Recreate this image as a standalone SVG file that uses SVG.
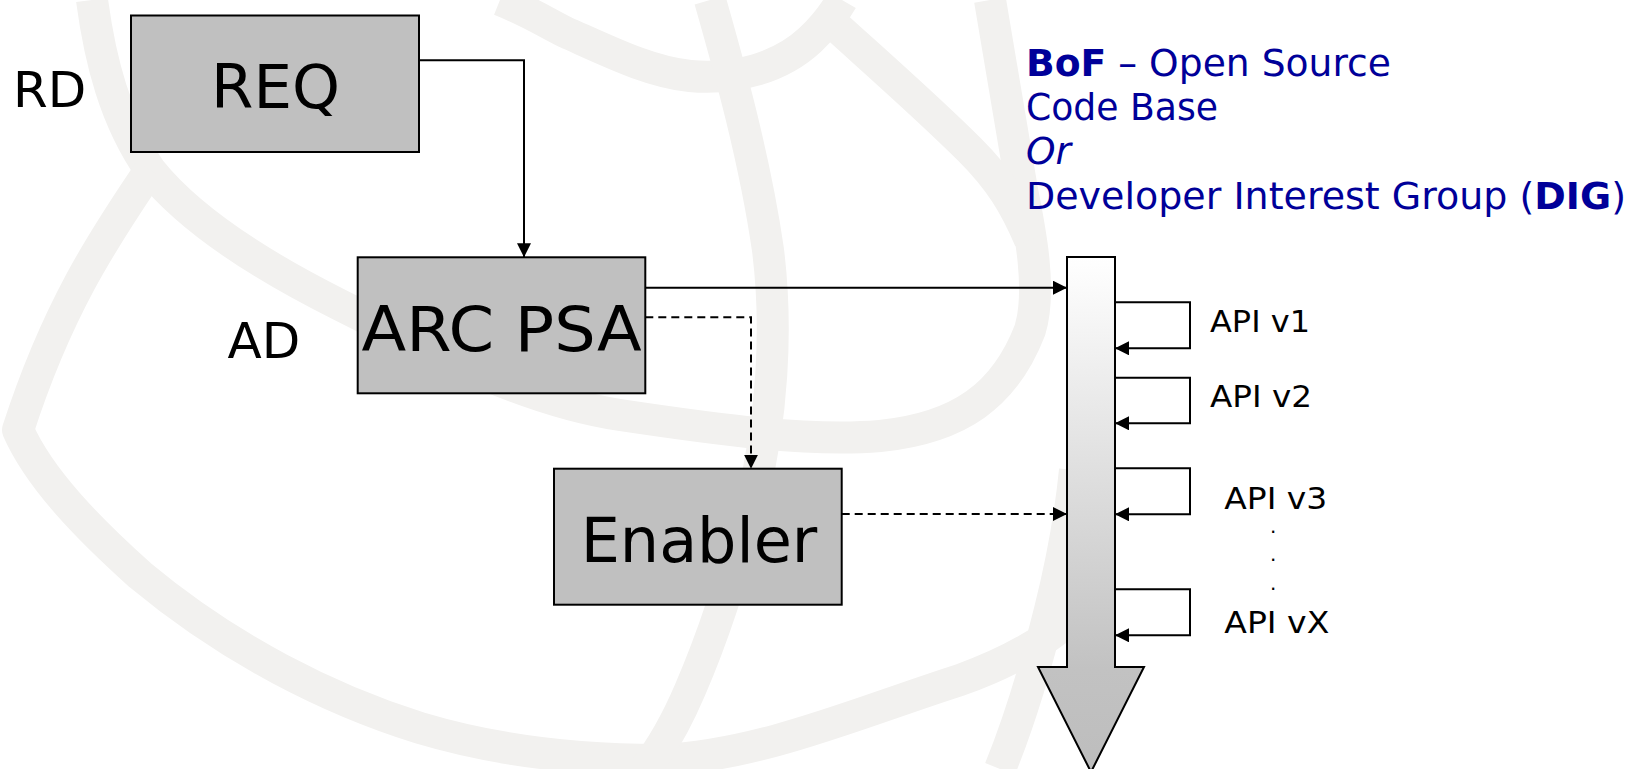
<svg xmlns="http://www.w3.org/2000/svg" width="1634" height="769" viewBox="0 0 1634 769">
  <defs>
    <style>
      .band { fill: none; stroke: #f2f1ef; stroke-width: 32; stroke-linecap: butt; stroke-linejoin: round; }
      .box { fill: #c0c0c0; stroke: #000; stroke-width: 2; }
      .lbl { font-family: "DejaVu Sans", Verdana, sans-serif; fill: #000; }
      .big { font-size: 62px; text-anchor: middle; }
      .side { font-size: 50px; }
      .api { font-size: 30.5px; }
      .dot { font-size: 20px; text-anchor: middle; }
      .blue { font-family: "DejaVu Sans", Verdana, sans-serif; font-size: 37.5px; fill: #000099; }
      .conn { fill: none; stroke: #000; stroke-width: 2; }
      .dash { stroke-dasharray: 8 5; }
    </style>
    <marker id="arrow" markerUnits="userSpaceOnUse" markerWidth="14" markerHeight="14" refX="14" refY="7" orient="auto">
      <path d="M0,0 L14,7 L0,14 z" fill="#000"/>
    </marker>
    <linearGradient id="busFill" gradientUnits="userSpaceOnUse" x1="0" y1="257" x2="0" y2="772">
      <stop offset="0" stop-color="#ffffff"/>
      <stop offset="0.8" stop-color="#c2c2c2"/>
      <stop offset="1" stop-color="#bdbdbd"/>
    </linearGradient>
  </defs>

  <rect width="1634" height="769" fill="#fff"/>

  <!-- faint globe watermark -->
  <g id="background">
    <path class="band" d="M92,0 C100,60 115,120 150,170 C190,220 260,265 340,305 C420,345 520,400 620,415 C720,430 810,442 880,436 C960,428 1005,395 1030,330 C1042,290 1030,230 1022,190 C1012,130 1000,60 990,0"/>
    <path class="band" d="M150,170 C110,230 60,300 18,430 C40,480 90,530 140,575 C230,650 330,700 420,728 C500,752 580,760 660,760 C760,756 860,712 960,680 C1010,662 1050,640 1080,610"/>
    <path class="band" d="M500,0 C530,12 545,22 565,32 C610,52 650,72 690,76 C735,80 780,68 810,40 C825,26 835,12 842,0"/>
    <path class="band" d="M838,28 C880,66 930,110 970,150 C1000,180 1015,205 1030,240"/>
    <path class="band" d="M710,0 C730,70 755,160 768,250 C778,330 772,420 752,500 C735,570 716,630 690,690 C675,725 660,750 645,769"/>
    <path class="band" d="M1000,769 C1020,720 1035,670 1050,610 C1060,570 1070,520 1075,470"/>
  </g>

  <!-- side labels -->
  <g id="side-labels">
    <text class="lbl side" x="13" y="106.7">RD</text>
    <text class="lbl side" x="227.5" y="357.7">AD</text>
  </g>

  <!-- group heading -->
  <g id="heading">
    <text class="blue" x="1026" y="76" textLength="365" lengthAdjust="spacingAndGlyphs"><tspan font-weight="bold">BoF</tspan> – Open Source</text>
    <text class="blue" x="1026" y="119.5" textLength="192" lengthAdjust="spacingAndGlyphs">Code Base</text>
    <text class="blue" x="1026" y="164" font-style="italic">Or</text>
    <text class="blue" x="1026" y="209" textLength="600" lengthAdjust="spacingAndGlyphs">Developer Interest Group (<tspan font-weight="bold">DIG</tspan>)</text>
  </g>

  <g id="node-req">
    <rect class="box" x="131" y="15.5" width="288" height="136.5"/>
    <text class="lbl big" x="275.5" y="108.3" style="font-size:61px">REQ</text>
  </g>

  <g id="node-arc-psa">
    <rect class="box" x="357.7" y="257.3" width="287.6" height="136"/>
    <text class="lbl big" x="501.6" y="351" textLength="280" lengthAdjust="spacingAndGlyphs">ARC PSA</text>
  </g>

  <g id="node-enabler">
    <rect class="box" x="554" y="468.7" width="287.7" height="136"/>
    <text class="lbl big" x="699" y="561.7">Enabler</text>
  </g>

  <g id="node-bus">
    <path d="M1067,257 H1115 V667 H1144 L1091,772 L1038,667 H1067 Z" fill="url(#busFill)" stroke="#000" stroke-width="2"/>
  </g>

  <g id="api-labels">
    <text class="lbl api" x="1210" y="332.3" textLength="100" lengthAdjust="spacingAndGlyphs">API v1</text>
    <text class="lbl api" x="1210" y="406.7" textLength="102" lengthAdjust="spacingAndGlyphs">API v2</text>
    <text class="lbl api" x="1224.3" y="509.3" textLength="103" lengthAdjust="spacingAndGlyphs">API v3</text>
    <text class="lbl dot" x="1273.3" y="533">.</text>
    <text class="lbl dot" x="1273.3" y="561">.</text>
    <text class="lbl dot" x="1273.3" y="590">.</text>
    <text class="lbl api" x="1224.3" y="633.3" textLength="105" lengthAdjust="spacingAndGlyphs">API vX</text>
  </g>

  <g id="connectors">
    <path class="conn" d="M419,60.3 H524 V257.3" marker-end="url(#arrow)"/>
    <path class="conn" d="M645.3,287.7 H1067" marker-end="url(#arrow)"/>
    <path class="conn dash" d="M645.3,317.3 H751 V468.7" marker-end="url(#arrow)"/>
    <path class="conn dash" d="M841.7,514 H1067" marker-end="url(#arrow)"/>
    <path class="conn" d="M1115,302.3 H1190 V348.3 H1115" marker-end="url(#arrow)"/>
    <path class="conn" d="M1115,377.7 H1190 V423.3 H1115" marker-end="url(#arrow)"/>
    <path class="conn" d="M1115,468.3 H1190 V514.3 H1115" marker-end="url(#arrow)"/>
    <path class="conn" d="M1115,589.3 H1190 V635.3 H1115" marker-end="url(#arrow)"/>
  </g>
</svg>
